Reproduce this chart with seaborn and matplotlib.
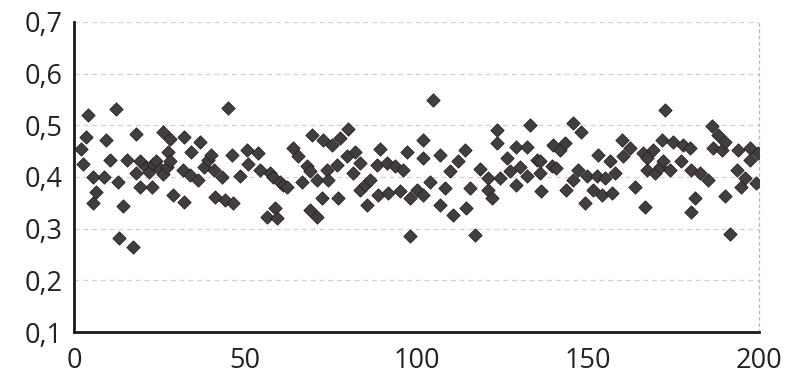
import matplotlib
matplotlib.use("Agg")
import matplotlib.pyplot as plt
import seaborn as sns
import pandas as pd

x_a = [2.0, 2.7, 3.5, 4.2, 5.6, 5.6, 6.4, 8.6, 9.3, 10.5, 12.2, 12.9, 13.2, 14.4, 15.4,
       17.3, 18.1, 18.1, 19.3, 19.3, 21, 22, 22.7, 23, 24, 25, 26, 26, 27, 27.4, 28, 28, 29, 31.9]
y_a = [0.454, 0.425, 0.478, 0.520, 0.400, 0.350, 0.370, 0.400, 0.472, 0.433, 0.532, 0.391, 0.282,
       0.343, 0.433, 0.265, 0.483, 0.408, 0.430, 0.381, 0.420, 0.410, 0.381, 0.425, 0.430, 0.415,
       0.488, 0.405, 0.420, 0.449, 0.474, 0.430, 0.365, 0.414]

x_b = [32, 32, 33.9, 34.1, 36.3, 36.8, 38, 39, 40, 41, 41.2, 43.1, 44.1, 44.9, 46, 46.5, 48.5,
       50.4, 50.9, 53.8, 54.3, 56.3, 57.2, 58, 58.7, 59.2, 60.1, 61, 62.1, 64, 65.5, 66.5]
y_b = [0.478, 0.352, 0.404, 0.449, 0.394, 0.468, 0.420, 0.433, 0.442, 0.414, 0.362, 0.400, 0.356,
       0.533, 0.443, 0.349, 0.402, 0.452, 0.425, 0.447, 0.414, 0.323, 0.407, 0.400, 0.340, 0.320,
       0.391, 0.385, 0.381, 0.456, 0.440, 0.391]

x_c = [67.9, 68.9, 68.9, 69.4, 70.9, 70.9, 72.3, 72.8, 73.8, 74.3, 75.2, 76.7, 77.2, 77.7, 79.6,
       80.1, 81.6, 82, 83.5, 83.5, 85, 85.5, 86.4, 88.4, 88.8, 89.3, 91.3, 91.8, 93.7, 95.2, 96.1,
       97.1, 98.1, 98.1, 100.1, 102, 102]
y_c = [0.421, 0.411, 0.336, 0.481, 0.394, 0.323, 0.359, 0.472, 0.414, 0.394, 0.462, 0.423, 0.359,
       0.475, 0.440, 0.492, 0.407, 0.449, 0.427, 0.375, 0.385, 0.346, 0.394, 0.423, 0.365, 0.454,
       0.427, 0.369, 0.421, 0.372, 0.414, 0.449, 0.359, 0.286, 0.375, 0.472, 0.436]

x_d = [102, 103.9, 104.9, 106.9, 106.9, 108.3, 109.8, 110.7, 112.2, 114.2, 114.6, 115.6, 117.1,
       118.5, 121, 121, 122, 123.4, 123.4, 124.4, 126.3, 127.3, 129.2, 129.2, 130.2, 132.2, 132.2,
       133.1, 135.1, 136, 136.5]
y_d = [0.365, 0.391, 0.549, 0.443, 0.346, 0.378, 0.411, 0.327, 0.430, 0.452, 0.340, 0.378, 0.288,
       0.415, 0.398, 0.375, 0.359, 0.491, 0.465, 0.398, 0.436, 0.411, 0.459, 0.385, 0.420, 0.459,
       0.401, 0.500, 0.433, 0.407, 0.372]

x_e = [136, 139.5, 140, 140.9, 141.9, 143.4, 143.8, 145.8, 145.8, 147.2, 148.2, 149.2, 149.7,
       151.6, 152.6, 153.1, 154.1, 155, 156.5, 157, 158, 159.9, 160.4, 162.3, 163.8, 166.2, 166.7,
       167.2, 167.2, 169.1, 169.6, 171.1, 171.6]
y_e = [0.430, 0.421, 0.462, 0.417, 0.452, 0.465, 0.375, 0.504, 0.394, 0.414, 0.488, 0.349, 0.401,
       0.375, 0.401, 0.443, 0.365, 0.398, 0.430, 0.369, 0.407, 0.472, 0.440, 0.456, 0.381, 0.446,
       0.342, 0.436, 0.414, 0.452, 0.407, 0.420, 0.472]

x_f = [172, 172.5, 174, 175, 177.4, 177.9, 179.9, 180.3, 180.3, 181.3, 182.7, 185.2, 186.2,
       186.7, 188.1, 189.1, 190.1, 190.1, 191.5, 193.5, 193.9, 194.9, 195.9, 197.3, 197.3, 199.3,
       199.8]
y_f = [0.430, 0.530, 0.414, 0.468, 0.430, 0.462, 0.456, 0.414, 0.333, 0.359, 0.407, 0.394, 0.498,
       0.456, 0.481, 0.452, 0.468, 0.363, 0.290, 0.414, 0.452, 0.381, 0.398, 0.456, 0.433, 0.388,
       0.446]

y_ticks = [0.1, 0.2, 0.3, 0.4, 0.5, 0.6, 0.7]
y_tick_labels = ["0,1", "0,2", "0,3", "0,4", "0,5", "0,6", "0,7"]
x_ticks = [0, 50, 100, 150, 200]

df = pd.DataFrame({
    "x": x_a + x_b + x_c + x_d + x_e + x_f,
    "y": y_a + y_b + y_c + y_d + y_e + y_f,
})

sns.set_style("white")
plt.rcParams["font.family"] = ["Open Sans", "DejaVu Sans"]

fig = plt.figure(figsize=(7.88, 3.79), dpi=100)
ax = fig.add_axes([0.094, 0.124, 0.869, 0.818])

# dashed light gridlines
for yv in y_ticks[1:]:
    ax.axhline(yv, color="#d2d2d2", lw=0.9, ls=(0, (4, 3)), zorder=0)

sns.scatterplot(data=df, x="x", y="y", marker="D", s=46, color="#433d3d",
                edgecolor="#262222", linewidth=0.6, ax=ax, zorder=3)

ax.set_xlim(0, 200)
ax.set_ylim(0.1, 0.7)
ax.set_xticks(x_ticks)
ax.set_yticks(y_ticks)
ax.set_yticklabels(y_tick_labels)
ax.set_xlabel("")
ax.set_ylabel("")

ax.spines["top"].set_visible(False)
ax.spines["right"].set_color("#b8b8b8")
ax.spines["right"].set_linestyle((0, (2, 3)))
ax.spines["right"].set_linewidth(0.9)
for side in ("left", "bottom"):
    ax.spines[side].set_color("#1a1a1a")
    ax.spines[side].set_linewidth(2.0)

ax.tick_params(axis="both", direction="inout", length=12, width=1.8, color="#1a1a1a",
               labelsize=19.5, labelcolor="#222222")
ax.tick_params(axis="y", pad=2)
ax.tick_params(axis="x", pad=5)

fig.savefig("out.png", dpi=100)
